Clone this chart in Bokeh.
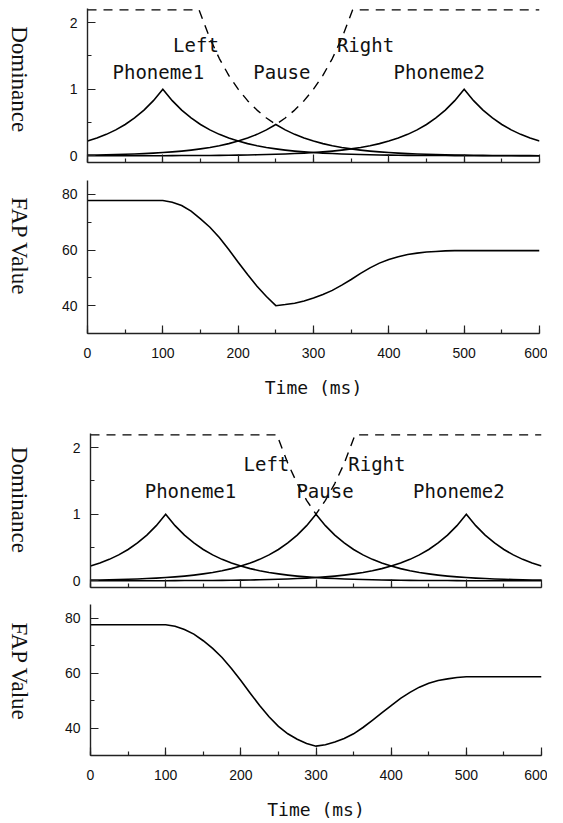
import math
from bokeh.plotting import figure
from bokeh.layouts import column, row
from bokeh.models import Range1d, SingleIntervalTicker
from bokeh.core.properties import value
from bokeh.embed import file_html
from bokeh.resources import INLINE

# ---------------- data ----------------
t_grid = [0, 12.5, 25, 37.5, 50, 62.5, 75, 87.5, 100, 112.5, 125, 137.5, 150, 162.5, 175, 187.5,
          200, 212.5, 225, 237.5, 250, 262.5, 275, 287.5, 300, 312.5, 325, 337.5, 350, 362.5, 375, 387.5,
          400, 412.5, 425, 437.5, 450, 462.5, 475, 487.5, 500, 512.5, 525, 537.5, 550, 562.5, 575, 587.5, 600]

phoneme1_dom = [0.221, 0.267, 0.322, 0.389, 0.470, 0.568, 0.686, 0.828, 1.000, 0.828, 0.686, 0.568, 0.470, 0.389, 0.322, 0.267,
                0.221, 0.183, 0.152, 0.125, 0.104, 0.086, 0.071, 0.059, 0.049, 0.040, 0.034, 0.028, 0.023, 0.019, 0.016, 0.013,
                0.011, 0.009, 0.007, 0.006, 0.005, 0.004, 0.004, 0.003, 0.002, 0.002, 0.002, 0.001, 0.001, 0.001, 0.001, 0.001, 0.001]

phoneme2_dom = [0.001, 0.001, 0.001, 0.001, 0.001, 0.001, 0.002, 0.002, 0.002, 0.003, 0.004, 0.004, 0.005, 0.006, 0.007, 0.009,
                0.011, 0.013, 0.016, 0.019, 0.023, 0.028, 0.034, 0.040, 0.049, 0.059, 0.071, 0.086, 0.104, 0.125, 0.152, 0.183,
                0.221, 0.267, 0.322, 0.389, 0.470, 0.568, 0.686, 0.828, 1.000, 0.828, 0.686, 0.568, 0.470, 0.389, 0.322, 0.267, 0.221]

# case A: pause peak at 250 ms with reduced magnitude
pause_dom_a = [0.011, 0.013, 0.016, 0.019, 0.023, 0.028, 0.033, 0.040, 0.049, 0.059, 0.071, 0.086, 0.104, 0.125, 0.151, 0.183,
               0.221, 0.267, 0.322, 0.389, 0.470, 0.389, 0.322, 0.267, 0.221, 0.183, 0.151, 0.125, 0.104, 0.086, 0.071, 0.059,
               0.049, 0.040, 0.033, 0.028, 0.023, 0.019, 0.016, 0.013, 0.011, 0.009, 0.007, 0.006, 0.005, 0.004, 0.003, 0.003, 0.002]

# case B: pause peak at 300 ms
pause_dom_b = [0.011, 0.013, 0.016, 0.019, 0.023, 0.028, 0.034, 0.040, 0.049, 0.059, 0.071, 0.086, 0.104, 0.125, 0.152, 0.183,
               0.221, 0.267, 0.322, 0.389, 0.470, 0.568, 0.686, 0.828, 1.000, 0.828, 0.686, 0.568, 0.470, 0.389, 0.322, 0.267,
               0.221, 0.183, 0.152, 0.125, 0.104, 0.086, 0.071, 0.059, 0.049, 0.040, 0.034, 0.028, 0.023, 0.019, 0.016, 0.013, 0.011]

# dashed Left / Right boundaries
bound_t_a = [0, 148, 162.5, 175, 187.5, 200, 212.5, 225, 237.5, 250, 262.5, 275, 287.5, 300, 312.5, 325, 337.5, 352, 600]
bound_v_a = [2.19, 2.19, 1.762, 1.459, 1.208, 1.0, 0.828, 0.686, 0.568, 0.47, 0.568, 0.686, 0.828, 1.0, 1.208, 1.459, 1.762, 2.19, 2.19]
bound_t_b = [0, 248, 262.5, 275, 287.5, 300, 312.5, 325, 337.5, 352, 600]
bound_v_b = [2.19, 2.19, 1.762, 1.459, 1.208, 1.0, 1.208, 1.459, 1.762, 2.19, 2.19]

# FAP value trajectories (same time grid)
fap_a = [77.8, 77.8, 77.8, 77.8, 77.8, 77.8, 77.8, 77.8, 77.8,
         77.2, 76.0, 74.0, 71.2, 68.2, 64.5, 60.2, 55.6, 51.2, 47.0, 43.3, 40.0, 40.4, 40.9, 41.7, 42.8, 44.0,
         45.5, 47.4, 49.4, 51.6, 53.6, 55.3, 56.6, 57.6, 58.4, 58.9, 59.3, 59.5, 59.7, 59.8, 59.8,
         59.8, 59.8, 59.8, 59.8, 59.8, 59.8, 59.8, 59.8]
fap_b = [77.6, 77.6, 77.6, 77.6, 77.6, 77.6, 77.6, 77.6, 77.6,
         77.1, 75.9, 74.2, 71.8, 69.0, 65.7, 61.7, 57.3, 52.7, 48.2, 44.1, 40.6, 37.9, 35.9, 34.4, 33.4, 33.9,
         34.9, 36.2, 37.9, 40.2, 42.8, 45.5, 48.2, 50.8, 53.0, 54.9, 56.3, 57.3, 57.9, 58.4, 58.7,
         58.7, 58.7, 58.7, 58.7, 58.7, 58.7, 58.7, 58.7]

label_text = ["Left", "Right", "Phoneme1", "Pause", "Phoneme2"]
label_t_a = [144, 369, 94, 258, 467]
label_v_a = [1.66, 1.66, 1.26, 1.26, 1.26]
label_t_b = [234, 381, 133, 312, 490]
label_v_b = [1.75, 1.75, 1.35, 1.35, 1.35]

# ---------------- styling helpers ----------------
AX = "#222222"
MONO = "DejaVu Sans Mono"
LABW = 34  # width of the strip holding the rotated y-axis titles


def make_fig(height, left, right, top, bottom, yr, yinterval, xlabels):
    p = figure(width=547 - LABW, height=height, output_backend="svg", toolbar_location=None,
               x_range=Range1d(0, 600), y_range=Range1d(*yr),
               min_border_left=left - LABW, min_border_right=right,
               min_border_top=top, min_border_bottom=bottom)
    p.outline_line_color = None
    p.grid.visible = False
    p.background_fill_color = "white"
    p.border_fill_color = "white"

    for ax in (p.xaxis[0], p.yaxis[0]):
        ax.major_tick_in = 8
        ax.major_tick_out = 0
        ax.minor_tick_in = 4
        ax.minor_tick_out = 0
        ax.axis_line_color = AX
        ax.axis_line_width = 1.4
        ax.major_tick_line_color = AX
        ax.minor_tick_line_color = AX
        ax.major_tick_line_width = 1.2
        ax.minor_tick_line_width = 1.2
        ax.major_label_text_font = "Liberation Sans"
        ax.major_label_text_font_size = "14px"
        ax.major_label_text_color = "#111111"

    xa = p.xaxis[0]
    xa.ticker = SingleIntervalTicker(interval=100, num_minor_ticks=2)
    if xlabels:
        xa.major_label_standoff = 14
        xa.axis_label = "Time (ms)"
        xa.axis_label_text_font = MONO
        xa.axis_label_text_font_size = "18px"
        xa.axis_label_text_font_style = "normal"
        xa.axis_label_text_color = "#111111"
        xa.axis_label_standoff = 16
    else:
        xa.major_label_text_color = None
        xa.major_label_text_font_size = "1px"
        xa.major_label_standoff = 0

    ya = p.yaxis[0]
    ya.ticker = SingleIntervalTicker(interval=yinterval, num_minor_ticks=2)
    ya.major_label_standoff = 10
    return p


def title_strip(p, text, ycenter, xpos):
    """Narrow companion figure carrying the rotated y-axis title (reads top to bottom)."""
    s = figure(width=LABW, height=p.height, output_backend="svg", toolbar_location=None,
               x_range=Range1d(0, LABW), y_range=Range1d(p.y_range.start, p.y_range.end),
               min_border_left=0, min_border_right=0,
               min_border_top=p.min_border_top, min_border_bottom=p.min_border_bottom)
    s.axis.visible = False
    s.grid.visible = False
    s.outline_line_color = None
    s.background_fill_color = "white"
    s.border_fill_color = "white"
    s.text(x=[xpos], y=[ycenter], text=[text], angle=-math.pi / 2,
           text_font=value("Liberation Serif"), text_font_size=value("23px"),
           text_align="center", text_baseline="middle", text_color="#111111")
    return row(s, p, spacing=0)


def dominance_panel(p, pause_dom, bt, bv, lt, lv):
    for series in (phoneme1_dom, pause_dom, phoneme2_dom):
        p.line(t_grid, series, line_color="black", line_width=1.6, line_join="miter")
    p.line(bt, bv, line_color="black", line_width=1.4, line_dash="9 7")
    p.text(x=lt, y=lv, text=label_text, text_font=value(MONO), text_font_size=value("19px"),
           text_align="center", text_baseline="alphabetic", text_color="#111111")


p1 = make_fig(172, 87, 8, 8, 10, (-0.1, 2.21), 1, False)
dominance_panel(p1, pause_dom_a, bound_t_a, bound_v_a, label_t_a, label_v_a)
r1 = title_strip(p1, "Dominance", 1.15, 19)

p2 = make_fig(246, 87, 8, 8, 85, (30, 85), 20, True)
p2.line(t_grid, fap_a, line_color="black", line_width=1.6, line_join="miter")
r2 = title_strip(p2, "FAP Value", 61.3, 19)

p3 = make_fig(179, 90, 6, 15, 10, (-0.1, 2.21), 1, False)
dominance_panel(p3, pause_dom_b, bound_t_b, bound_v_b, label_t_b, label_v_b)
r3 = title_strip(p3, "Dominance", 1.215, 19)

p4 = make_fig(225, 90, 6, 7, 66, (30, 85), 20, True)
p4.line(t_grid, fap_b, line_color="black", line_width=1.6, line_join="miter")
r4 = title_strip(p4, "FAP Value", 60.5, 19)

layout = column(r1, r2, r3, r4, spacing=0)
open("out.html", "w").write(file_html(layout, INLINE))
